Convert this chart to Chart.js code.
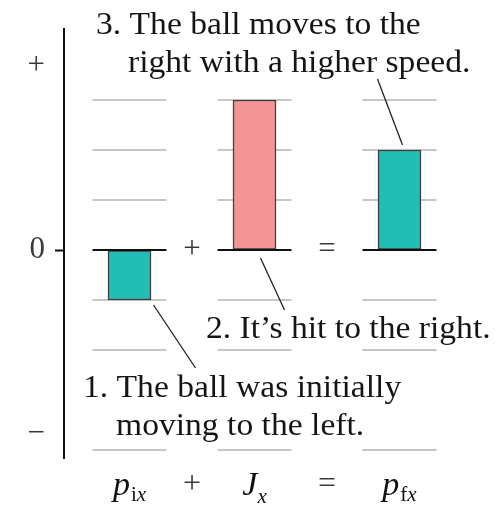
<!DOCTYPE html>
<html>
<head>
<meta charset="utf-8">
<script src="https://cdn.jsdelivr.net/npm/chart.js@4/dist/chart.umd.min.js"></script>
<style>
  html, body { margin: 0; padding: 0; background: #fff; }
  #wrap { width: 502px; height: 509px; }
</style>
</head>
<body>
<div id="wrap"><canvas id="impulse" width="502" height="509"></canvas></div>
<script>
// momentum bar chart: p_ix + J_x = p_fx
const columns = ["pix", "Jx", "pfx"];
const columnPos = [1.31, 3.81, 6.71];
const barValues = [-1, 3, 2];
const barColors = ["#22bdb5", "#f49595", "#22bdb5"];
const operatorPos = [2.56, 5.26];
const operators = ["+", "="];
const gridLevels = [3, 2, 1, -1, -2, -4];
const yTickValues = [3.68, 0, -3.68];
const yTickLabels = ["+", "0", "\u2212"];

const SERIF = '"Liberation Serif", "DejaVu Serif", serif';

function mathRow(ctx, parts, cx, baseline) {
  let total = 0;
  parts.forEach((p) => {
    ctx.font = p.font;
    p.w = ctx.measureText(p.t).width;
    total += p.w + (p.gap || 0);
  });
  let x = cx - total / 2;
  parts.forEach((p) => {
    ctx.font = p.font;
    ctx.fillText(p.t, x, baseline + (p.dy || 0));
    x += p.w + (p.gap || 0);
  });
}

// slightly widened serif text for the notes
function note(ctx, text, x, y) {
  ctx.save();
  ctx.translate(x, y);
  ctx.scale(1.05, 1);
  ctx.fillText(text, 0, 0);
  ctx.restore();
}

const decor = {
  id: "decor",
  beforeDatasetsDraw(chart) {
    const { ctx, scales: { x, y } } = chart;
    ctx.save();
    ctx.strokeStyle = "#c6c6c6";
    ctx.lineWidth = 2;
    columnPos.forEach((c) => {
      gridLevels.forEach((lv) => {
        const py = Math.round(y.getPixelForValue(lv));
        ctx.beginPath();
        ctx.moveTo(x.getPixelForValue(c - 0.74), py);
        ctx.lineTo(x.getPixelForValue(c + 0.74), py);
        ctx.stroke();
      });
    });
    ctx.restore();
  },
  afterDatasetsDraw(chart) {
    const { ctx, scales: { x, y } } = chart;
    const y0 = Math.round(y.getPixelForValue(0));
    ctx.save();

    // zero baselines for each column
    ctx.strokeStyle = "#111";
    ctx.lineWidth = 2;
    columnPos.forEach((c) => {
      ctx.beginPath();
      ctx.moveTo(x.getPixelForValue(c - 0.74), y0);
      ctx.lineTo(x.getPixelForValue(c + 0.74), y0);
      ctx.stroke();
    });

    // operators between the columns
    ctx.fillStyle = "#3a3a3a";
    ctx.textAlign = "center";
    ctx.textBaseline = "middle";
    ctx.font = "31px " + SERIF;
    operators.forEach((op, i) => {
      ctx.fillText(op, x.getPixelForValue(operatorPos[i]), y0);
    });

    // formula row underneath
    ctx.fillStyle = "#111";
    ctx.textAlign = "left";
    ctx.textBaseline = "alphabetic";
    const big = "italic 34px " + SERIF;
    const subR = "21px " + SERIF;
    const subI = "italic 21px " + SERIF;
    const rowY = 495;
    mathRow(ctx, [{ t: "p", font: big, gap: 1 }, { t: "i", font: subR, dy: 6 }, { t: "x", font: subI, dy: 6 }],
      x.getPixelForValue(columnPos[0]), rowY);
    mathRow(ctx, [{ t: "J", font: big, gap: 0 }, { t: "x", font: subI, dy: 8 }],
      x.getPixelForValue(columnPos[1]), rowY);
    mathRow(ctx, [{ t: "p", font: big, gap: 1 }, { t: "f", font: subR, dy: 6 }, { t: "x", font: subI, dy: 6 }],
      x.getPixelForValue(columnPos[2]), rowY);
    ctx.font = "32px " + SERIF;
    ctx.textAlign = "center";
    ctx.fillStyle = "#3a3a3a";
    operators.forEach((op, i) => {
      ctx.fillText(op, x.getPixelForValue(operatorPos[i]), rowY - 2);
    });

    // leader lines from the notes to the bars
    const b1 = [x.getPixelForValue(columnPos[0]), y.getPixelForValue(barValues[0])];
    const b2 = [x.getPixelForValue(columnPos[1]), y.getPixelForValue(0)];
    const b3 = [x.getPixelForValue(columnPos[2]), y.getPixelForValue(barValues[2])];
    const leaders = [
      [b3[0] - 22, b3[1] - 71, b3[0] + 3, b3[1] - 5],
      [b2[0] + 6, b2[1] + 8, b2[0] + 30, b2[1] + 60],
      [b1[0] + 24, b1[1] + 5, b1[0] + 66, b1[1] + 68]
    ];
    ctx.strokeStyle = "#222";
    ctx.lineWidth = 1.3;
    leaders.forEach(([x1, y1, x2, y2]) => {
      ctx.beginPath();
      ctx.moveTo(x1, y1);
      ctx.lineTo(x2, y2);
      ctx.stroke();
    });

    // notes
    ctx.fillStyle = "#151515";
    ctx.textAlign = "left";
    ctx.font = "32px " + SERIF;
    note(ctx, "3. The ball moves to the", 96, 34);
    note(ctx, "right with a higher speed.", 128, 72);
    note(ctx, "2. It\u2019s hit to the right.", 206, 338);
    note(ctx, "1. The ball was initially", 83, 397);
    note(ctx, "moving to the left.", 116, 435);
    ctx.restore();
  }
};

new Chart(document.getElementById("impulse"), {
  type: "bar",
  data: {
    datasets: [{
      data: columns.map((c, i) => ({ x: columnPos[i], y: barValues[i] })),
      backgroundColor: barColors,
      borderColor: "#3d3d3d",
      borderWidth: 1.5,
      borderSkipped: false,
      barThickness: 43
    }]
  },
  options: {
    responsive: false,
    animation: false,
    events: [],
    layout: { padding: { top: 29, right: 38, bottom: 51, left: 0 } },
    plugins: { legend: { display: false }, tooltip: { enabled: false } },
    scales: {
      x: { type: "linear", min: 0, max: 8, offset: false, display: false },
      y: {
        min: -4.16,
        max: 4.42,
        afterBuildTicks(scale) {
          scale.ticks = yTickValues.map((v) => ({ value: v }));
        },
        afterFit(scale) { scale.width = 64; },
        border: { display: true, color: "#111", width: 2 },
        grid: {
          drawOnChartArea: false,
          drawTicks: true,
          tickLength: 9,
          tickWidth: 2,
          tickColor: (ctx) => (ctx.tick && ctx.tick.value === 0 ? "#111" : "rgba(0,0,0,0)")
        },
        ticks: {
          padding: 10,
          color: "#3a3a3a",
          font: { family: SERIF, size: 31 },
          callback: (v, i) => yTickLabels[i]
        }
      }
    }
  },
  plugins: [decor]
});
</script>
</body>
</html>
